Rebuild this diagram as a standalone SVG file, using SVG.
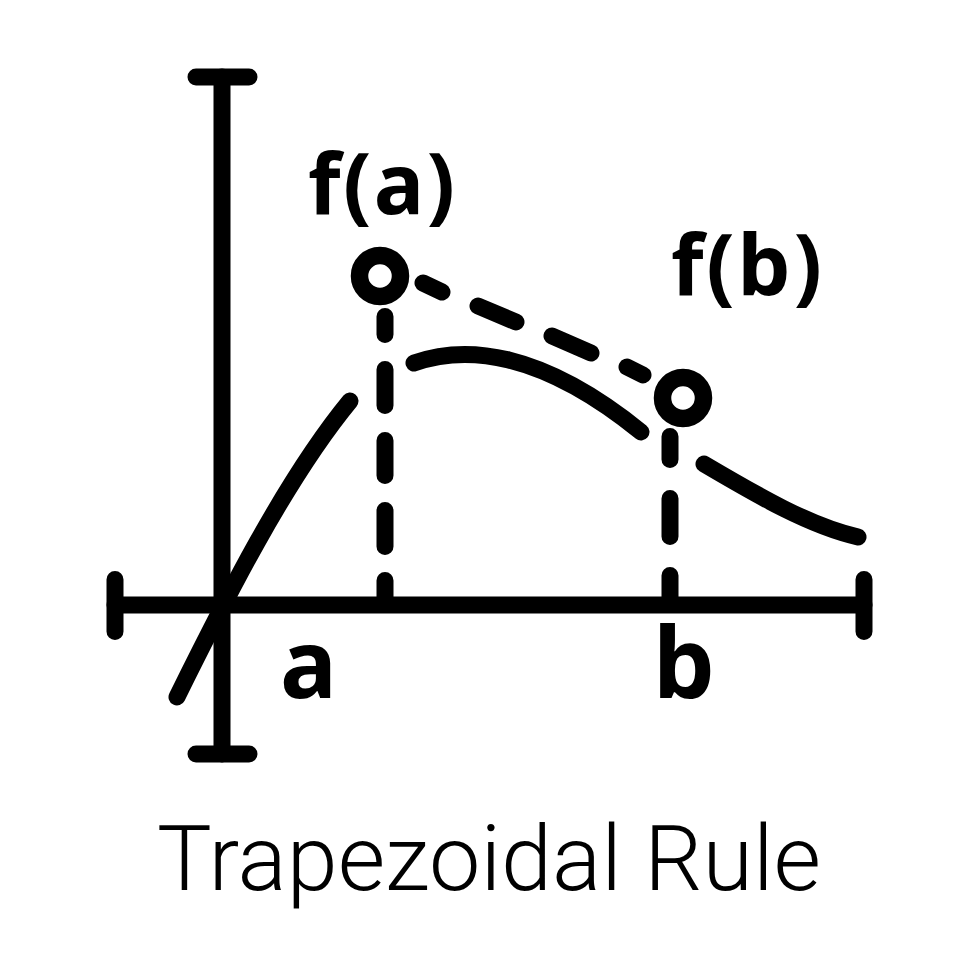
<svg xmlns="http://www.w3.org/2000/svg" width="980" height="980" viewBox="0 0 980 980">
<style>
.l{fill:none;stroke:#000;stroke-width:17;stroke-linecap:round;stroke-linejoin:round}
.b{font-family:"Noto Sans","Open Sans",sans-serif;font-weight:700;fill:#000}
.t{font-family:Roboto,"Liberation Sans",sans-serif;font-weight:300;fill:#000}
.c{fill:#fff;stroke:#000;stroke-width:17.5}
</style>
<rect width="980" height="980" fill="#fff"/>
<g id="connectors">
<path class="l" d="M196 77H249M196 754H249M115 579.500V631.500M864 579.500V631.500"/>
<path class="l" d="M222 77V754M115 605H864"/>
<path class="l" d="M177 697C225 600 285 480 350 401"/>
<path class="l" d="M414 363C465 345 540 350 641 432"/>
<path class="l" d="M704 464C760 497 810 526 858 537"/>
<path class="l" d="M385 316.500V334.500M385 369.500V405.500M385 440.500V475.500M385 510.500V546.500M385 580.500V600"/>
<path class="l" d="M670 436.500V459.500M670 498.500V536.500M670 575.500V600"/>
<path class="l" d="M423 283L442 292M478 306L516 322M552 336L591 353M627 367L643 375"/>
</g>
<g id="point-a"><circle class="c" cx="380" cy="276" r="20.500"/></g>
<g id="point-b"><circle class="c" cx="683" cy="398" r="20.500"/></g>
<text class="b" x="308" y="214" font-size="84" textLength="147">f(a)</text>
<text class="b" x="671" y="295" font-size="84" textLength="151">f(b)</text>
<text class="b" x="280" y="698" font-size="95">a</text>
<text class="b" x="653" y="698" font-size="98">b</text>
<text class="t" x="157" y="890" font-size="90" textLength="664" lengthAdjust="spacingAndGlyphs">Trapezoidal Rule</text>
</svg>
